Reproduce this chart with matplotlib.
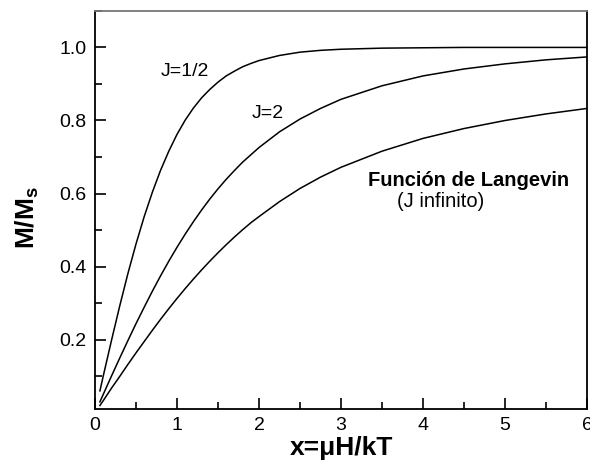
import matplotlib
matplotlib.use("Agg")
import matplotlib.pyplot as plt
from matplotlib.ticker import MultipleLocator

plt.rcParams['font.family'] = ['Liberation Sans', 'DejaVu Sans']
plt.rcParams['mathtext.fontset'] = 'custom'
plt.rcParams['mathtext.bf'] = 'Liberation Sans:bold'

# valores
x = [0.06, 0.1, 0.2, 0.3, 0.4, 0.5, 0.6, 0.7, 0.8, 0.9, 1.0, 1.1, 1.2, 1.3, 1.4,
     1.5, 1.6, 1.7, 1.8, 1.9, 2.0, 2.25, 2.5, 2.75, 3.0, 3.5, 4.0, 4.5, 5.0, 5.5, 6.0]
m_j12 = [0.060, 0.100, 0.197, 0.291, 0.380, 0.462, 0.537, 0.604, 0.664, 0.716, 0.762,
         0.801, 0.834, 0.862, 0.885, 0.905, 0.922, 0.935, 0.947, 0.956, 0.964, 0.978,
         0.987, 0.992, 0.995, 0.998, 0.999, 1.000, 1.000, 1.000, 1.000]
m_j2 = [0.030, 0.050, 0.100, 0.149, 0.197, 0.244, 0.289, 0.333, 0.375, 0.415, 0.453,
        0.489, 0.523, 0.555, 0.585, 0.613, 0.639, 0.663, 0.686, 0.706, 0.726, 0.769,
        0.804, 0.833, 0.858, 0.895, 0.922, 0.941, 0.955, 0.966, 0.974]
m_lang = [0.020, 0.033, 0.067, 0.099, 0.132, 0.164, 0.195, 0.226, 0.256, 0.285, 0.313,
          0.340, 0.366, 0.391, 0.415, 0.438, 0.460, 0.481, 0.501, 0.520, 0.537, 0.578,
          0.614, 0.645, 0.672, 0.716, 0.751, 0.778, 0.800, 0.818, 0.833]

fig = plt.figure(figsize=(5.9, 4.73), dpi=100)
ax = fig.add_axes([0.161, 0.135, 0.834, 0.842])

ax.plot(x, m_j12, color="black", lw=1.1)
ax.plot(x, m_j2, color="black", lw=1.1)
ax.plot(x, m_lang, color="black", lw=1.1)

ax.set_xlim(0, 6)
ax.set_ylim(0.01, 1.1)
ax.xaxis.set_major_locator(MultipleLocator(1))
ax.xaxis.set_minor_locator(MultipleLocator(0.5))
ax.yaxis.set_minor_locator(MultipleLocator(0.1))
ax.set_yticks([0.2, 0.4, 0.6, 0.8, 1.0])
ax.set_yticklabels(["0.2", "0.4", "0.6", "0.8", "1.0"])
ax.tick_params(which="major", direction="in", length=8, width=1.2, labelsize=14, pad=6)
ax.tick_params(which="minor", direction="in", length=5, width=1.2)
for s in ax.spines.values():
    s.set_linewidth(1.3)
ax.spines["top"].set_color("#777777")

ax.set_xlabel("x=μH/kT", fontsize=19, fontweight="bold", labelpad=1)
ax.set_ylabel("M/M$_\\mathbf{s}$", fontsize=19, fontweight="bold", labelpad=13)
ax.yaxis.label.set_y(0.48)

ax.text(1.10, 0.934, "J=1/2", fontsize=14, ha="center", va="center")
ax.text(2.11, 0.819, "J=2", fontsize=14, ha="center", va="center")
ax.text(4.55, 0.622, "Función de Langevin", fontsize=14.5, fontweight="bold",
        ha="center", va="baseline")
ax.text(4.22, 0.564, "(J infinito)", fontsize=14.5, ha="center", va="baseline")

fig.savefig("out.png", dpi=100)
